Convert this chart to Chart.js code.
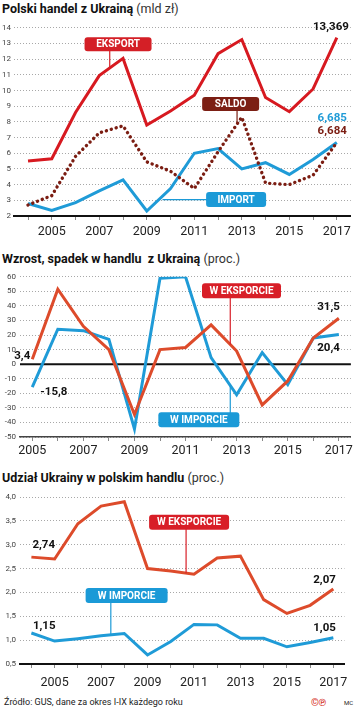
<!DOCTYPE html>
<html><head><meta charset="utf-8">
<script src="https://cdn.jsdelivr.net/npm/chart.js@4"></script>
<style>
body{margin:0;width:355px;height:712px;background:#fff;position:relative;overflow:hidden;font-family:Roboto,"Open Sans",sans-serif;}
.t{position:absolute;left:2px;font-size:12.5px;line-height:14px;color:#111;white-space:pre;}
.t b{font-weight:700}
.t span{font-weight:400;color:#333}
canvas{position:absolute;left:0}
.src{position:absolute;left:4px;top:697px;font-size:9px;line-height:11px;color:#222}
.cp{position:absolute;left:311px;top:697px;font-size:10px;line-height:11px;color:#d6342a;font-weight:700}
.mc{position:absolute;left:344px;top:699px;font-size:6px;line-height:8px;color:#222}
</style></head>
<body>
<div class="t" style="top:2px"><b>Polski handel z Ukrainą</b> <span>(mld zł)</span></div>
<canvas id="c1" width="355" height="226" style="top:20px"></canvas>
<div class="t" style="top:252px"><b>Wzrost, spadek w handlu  z Ukrainą</b> <span>(proc.)</span></div>
<canvas id="c2" width="355" height="199" style="top:268px"></canvas>
<div class="t" style="top:471px"><b>Udział Ukrainy w polskim handlu</b> <span>(proc.)</span></div>
<canvas id="c3" width="355" height="206" style="top:488px"></canvas>
<div class="src">Źródło: GUS, dane za okres I-IX każdego roku</div>
<div class="cp">©℗</div>
<div class="mc">MC</div>
<script>
// ---------- DATA ----------
const years1 = [2004,2005,2006,2007,2008,2009,2010,2011,2012,2013,2014,2015,2016,2017];
const exportValues = [5.5,5.65,8.6,10.95,12.05,7.8,8.7,9.7,12.35,13.25,9.55,8.65,10.1,13.369];
const importValues = [2.8,2.35,2.85,3.6,4.3,2.32,3.75,6.0,6.3,5.0,5.4,4.65,5.6,6.685];
const saldoValues  = [2.7,3.3,5.8,7.3,7.75,5.45,4.85,3.75,6.1,8.3,4.1,4.0,4.6,6.684];

const years2 = [2005,2006,2007,2008,2009,2010,2011,2012,2013,2014,2015,2016,2017];
const exportGrowth = [3.4,51.5,26,10,-34.5,10,11.5,27,9,-28,-11.5,18,31.5];
const importGrowth = [-15.8,24,23,17,-44.5,59,60,4.5,-21,8,-14,18,20.4];

const years3 = [2004,2005,2006,2007,2008,2009,2010,2011,2012,2013,2014,2015,2016,2017];
const exportShare = [2.74,2.70,3.44,3.81,3.90,2.50,2.45,2.38,2.72,2.76,1.85,1.56,1.73,2.07];
const importShare = [1.15,0.98,1.03,1.09,1.14,0.69,0.97,1.33,1.32,1.04,1.04,0.86,0.95,1.05];

const xLabelYears = [2005,2007,2009,2011,2013,2015,2017];

// ---------- STYLE ----------
const RED = '#d71920', DARKRED = '#7b1d12', BLUE = '#1f9bd7', ORANGE = '#dd4b2b';
const FONT = 'Roboto';

const pts = (xs, vs) => xs.map((x,i)=>({x, y: vs[i]}));

function lineDs(label, xs, vs, color, order, extra){
  return Object.assign({label, data: pts(xs,vs), borderColor: color, backgroundColor: color,
    borderWidth: 3, pointRadius: 0, tension: 0, fill: false, order}, extra||{});
}

function xScale(min, max, tickYears, labelPad, borderColor, borderWidth){
  return {
    type:'linear', min, max,
    afterBuildTicks: s => { s.ticks = tickYears.map(v=>({value:v})); },
    ticks:{autoSkip:false, maxRotation:0, padding:labelPad, color:'#222',
      font:{family:FONT, size:12.5},
      callback: v => xLabelYears.includes(v) ? String(v) : ''},
    grid:{drawOnChartArea:false, drawTicks:true, tickLength:4, color:'#888', lineWidth:1},
    border:{display:true, color:borderColor, width:borderWidth},
    afterFit: s => { s.height = 30; }
  };
}
function yScale(min, max, step, width, pad, fmt){
  return {
    min, max,
    ticks:{stepSize:step, padding:pad, color:'#444', font:{family:FONT, size:8}, callback: fmt},
    grid:{drawTicks:false, color:'#a8a8a8', lineWidth:1},
    border:{display:false, dash:[1,2]},
    afterFit: s => { s.width = width; }
  };
}

function interp(ds, xv){
  const d = ds.data;
  for (let i=0;i<d.length-1;i++){
    if (xv>=d[i].x && xv<=d[i+1].x){
      const t=(xv-d[i].x)/(d[i+1].x-d[i].x);
      return d[i].y + t*(d[i+1].y-d[i].y);
    }
  }
  return d[d.length-1].y;
}
function rrect(ctx,x,y,w,h,r){
  ctx.beginPath();
  ctx.moveTo(x+r,y); ctx.lineTo(x+w-r,y); ctx.quadraticCurveTo(x+w,y,x+w,y+r);
  ctx.lineTo(x+w,y+h-r); ctx.quadraticCurveTo(x+w,y+h,x+w-r,y+h);
  ctx.lineTo(x+r,y+h); ctx.quadraticCurveTo(x,y+h,x,y+h-r);
  ctx.lineTo(x,y+r); ctx.quadraticCurveTo(x,y,x+r,y); ctx.closePath();
}

const annot = {
  id:'annot',
  beforeDatasetsDraw(chart, args, o){
    if (!o.zeroLine) return;
    const {ctx, chartArea:a, scales:{y}} = chart;
    const py = y.getPixelForValue(0);
    ctx.save(); ctx.strokeStyle='#111'; ctx.lineWidth=2;
    ctx.beginPath(); ctx.moveTo(a.left,py); ctx.lineTo(a.right,py); ctx.stroke(); ctx.restore();
  },
  afterDatasetsDraw(chart, args, o){
    const {ctx, scales:{x,y}} = chart;
    ctx.save();
    (o.boxes||[]).forEach(b=>{
      const cx = x.getPixelForValue(b.x), cy = y.getPixelForValue(b.y);
      const lx = x.getPixelForValue(b.lx);
      ctx.strokeStyle = b.color; ctx.lineWidth = 1.2;
      ctx.beginPath();
      if (b.dir==='h'){
        ctx.moveTo(cx, cy); ctx.lineTo(lx, cy);
      } else {
        const ly = y.getPixelForValue(interp(chart.data.datasets[b.ds], b.lx));
        ctx.moveTo(lx, cy); ctx.lineTo(lx, ly);
      }
      ctx.stroke();
      ctx.fillStyle = b.color;
      rrect(ctx, cx-b.w/2, cy-b.h/2, b.w, b.h, 3); ctx.fill();
      ctx.fillStyle='#fff'; ctx.font='700 10px '+FONT;
      ctx.textAlign='center'; ctx.textBaseline='middle';
      ctx.fillText(b.text, cx, cy+0.5);
    });
    (o.labels||[]).forEach(l=>{
      const p = chart.getDatasetMeta(l.ds).data[l.i];
      ctx.fillStyle = l.color; ctx.font='700 11.5px '+FONT;
      ctx.textAlign = l.align; ctx.textBaseline='middle';
      ctx.fillText(l.text, p.x + l.dx, p.y + l.dy);
    });
    ctx.restore();
  }
};

function make(id, datasets, scales, pad, annotOpts){
  return new Chart(document.getElementById(id), {
    type:'line',
    data:{datasets},
    options:{
      responsive:false, animation:false, devicePixelRatio:1,
      layout:{padding:pad},
      plugins:{legend:{display:false}, tooltip:{enabled:false}, annot: annotOpts},
      scales
    },
    plugins:[annot]
  });
}

// Chart 1
make('c1', [
  lineDs('Eksport', years1, exportValues, RED, 2),
  lineDs('Import', years1, importValues, BLUE, 1),
  lineDs('Saldo', years1, saldoValues, DARKRED, 0, {borderDash:[0.1,5], borderCapStyle:'round', borderWidth:3.4})
], {
  x: xScale(2003.41, 2017.59, years1, 4, '#111', 2),
  y: yScale(2, 14, 1, 14, 3, v=>String(v))
}, {top:7, left:0, right:3, bottom:0}, {
  boxes:[
    {text:'EKSPORT', x:2007.79, y:12.95, w:67, h:14, color:'#d41f26', ds:0, lx:2007.44},
    {text:'SALDO', x:2012.53, y:9.14, w:57, h:14, color:'#7c1f14', ds:2, lx:2012.8},
    {text:'IMPORT', x:2012.76, y:3.05, w:60, h:15, color:'#1b9ad7', dir:'h', lx:2009.66}
  ],
  labels:[
    {ds:0, i:13, text:'13,369', dx:12, dy:-10.5, align:'right', color:'#111'},
    {ds:1, i:13, text:'6,685', dx:10, dy:-24.7, align:'right', color:BLUE},
    {ds:2, i:13, text:'6,684', dx:10, dy:-11, align:'right', color:DARKRED}
  ]
});

// Chart 2
make('c2', [
  lineDs('W eksporcie', years2, exportGrowth, ORANGE, 0),
  lineDs('W imporcie', years2, importGrowth, BLUE, 1)
], {
  x: xScale(2004.52, 2017.47, years2, 2, '#444', 1.5),
  y: yScale(-50, 60, 10, 20, 4, v=>String(v))
}, {top:8, left:0, right:3, bottom:0}, {
  zeroLine:true,
  boxes:[
    {text:'W EKSPORCIE', x:2013.19, y:50.4, w:79, h:15, color:'#d81e27', ds:0, lx:2012.75},
    {text:'W IMPORCIE', x:2011.52, y:-38.2, w:81, h:15, color:'#1b9ad7', ds:1, lx:2012.75}
  ],
  labels:[
    {ds:0, i:0, text:'3,4', dx:-2, dy:-3, align:'right', color:'#111'},
    {ds:1, i:0, text:'-15,8', dx:8, dy:4.5, align:'left', color:'#111'},
    {ds:0, i:12, text:'31,5', dx:1, dy:-11.6, align:'right', color:'#111'},
    {ds:1, i:12, text:'20,4', dx:1, dy:13.6, align:'right', color:'#111'}
  ]
});

// Chart 3
make('c3', [
  lineDs('W eksporcie', years3, exportShare, ORANGE, 0),
  lineDs('W imporcie', years3, importShare, BLUE, 1)
], {
  x: xScale(2003.51, 2017.48, years3, 7.5, '#111', 2),
  y: yScale(0.5, 4.0, 0.5, 20, 4, v=>v.toFixed(1).replace('.',','))
}, {top:9, left:0, right:3, bottom:0}, {
  boxes:[
    {text:'W EKSPORCIE', x:2010.79, y:3.47, w:80, h:15, color:'#d81e27', ds:0, lx:2010.66},
    {text:'W IMPORCIE', x:2008.1, y:1.935, w:82, h:15, color:'#1b9ad7', ds:1, lx:2007.42}
  ],
  labels:[
    {ds:0, i:0, text:'2,74', dx:1, dy:-12, align:'left', color:'#111'},
    {ds:1, i:0, text:'1,15', dx:1.5, dy:-7, align:'left', color:'#111'},
    {ds:0, i:13, text:'2,07', dx:2.5, dy:-9, align:'right', color:'#111'},
    {ds:1, i:13, text:'1,05', dx:2.5, dy:-9.5, align:'right', color:'#111'}
  ]
});
</script>
</body></html>
